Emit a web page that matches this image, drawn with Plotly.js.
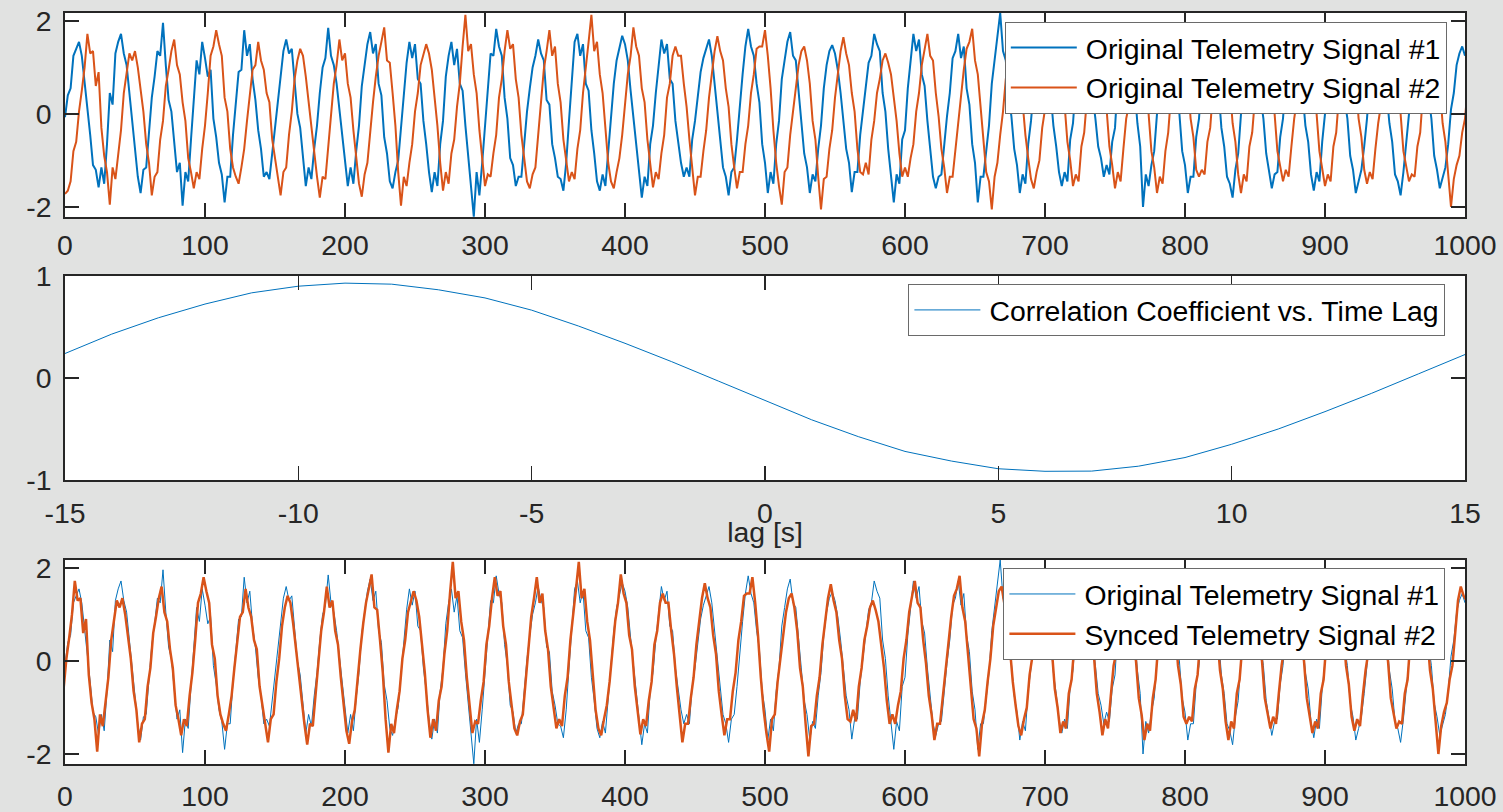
<!DOCTYPE html>
<html>
<head>
<meta charset="utf-8">
<script src="https://cdn.plot.ly/plotly-3.0.1.min.js"></script>
<style>
html,body{margin:0;padding:0;background:#e1e2e1;}
#chart{width:1503px;height:812px;}
</style>
</head>
<body>
<div id="chart"></div>
<script>
// ---------------- data ----------------
const SAMPLE_STEP = 2; // samples listed every 2 time units

// Original Telemetry Signal #1, t = 0..1000 (one ~30-sample cycle per row)
const signal1 = [
-0.07,0.4,0.55,1.25,1.4,1.55,1.25,0.7,0.2,-0.45,-1.1,-1.2,-1.58,-1.15,-1.5,
-0.65,0.45,0.2,1.3,1.55,1.72,1.3,1.05,0.45,-0.2,-0.9,-1.35,-1.7,-1.2,-1.15,
-0.4,0.35,0.8,1.35,1.25,1.96,1.05,0.3,0.05,-0.55,-1.25,-1.05,-1.97,-1.25,-1.45,
-0.55,0.35,1.15,0.85,1.55,1.2,0.8,0.95,-0.1,-0.5,-1.05,-1.3,-1.9,-1.35,-1.35,
-0.45,0.15,0.9,0.95,1.8,1.25,1.5,0.75,0.3,-0.35,-0.75,-1.35,-1.25,-1.4,-0.85,
-0.35,0.2,0.7,1.35,1.6,1.3,1.4,0.65,0.0,-0.3,-1.0,-1.55,-1.15,-1.4,-0.75,
-0.25,0.45,1.0,1.2,1.85,1.25,1.05,0.65,0.1,-0.55,-1.05,-1.55,-1.15,-1.5,-0.8,
-0.25,0.6,1.05,1.5,1.76,1.3,1.5,0.65,0.4,-0.5,-0.85,-1.45,-1.6,-1.25,-1.0,
-0.35,0.45,1.1,1.55,1.2,1.5,0.75,0.65,-0.15,-0.65,-1.25,-1.68,-1.25,-1.55,-0.65,
-0.15,0.8,1.25,1.55,1.05,1.4,0.65,0.5,-0.25,-0.85,-1.45,-2.21,-1.25,-1.75,-1.05,
-0.25,0.45,1.3,1.25,1.83,1.45,1.25,0.35,-0.1,-0.95,-1.1,-1.55,-1.35,-1.35,-0.65,
0.05,0.55,1.0,1.25,1.6,1.3,1.15,0.3,0.2,-0.65,-0.95,-1.35,-1.4,-1.65,-1.05,
-0.15,0.7,1.55,1.72,1.25,1.5,0.65,0.5,-0.35,-0.85,-1.45,-1.65,-1.3,-1.55,-0.75,
-0.15,0.65,1.15,1.4,1.68,1.5,1.15,0.5,-0.05,-0.65,-1.2,-1.8,-1.35,-1.55,-0.65,
-0.25,0.45,1.05,1.6,1.3,1.5,0.75,0.65,-0.15,-0.65,-1.05,-1.35,-1.15,-1.35,-0.55,
-0.15,0.45,0.9,1.2,1.4,1.6,1.25,0.65,0.05,-0.45,-1.15,-1.35,-1.75,-1.25,-1.15,
-0.55,0.25,0.85,1.45,1.83,1.45,1.25,0.65,0.25,-0.65,-1.05,-1.7,-1.25,-1.5,-0.65,
-0.15,0.75,1.15,1.55,1.76,1.25,1.15,0.45,-0.15,-0.85,-1.15,-1.7,-1.3,-1.45,-0.75,
-0.25,0.55,1.05,1.35,1.48,1.3,0.95,0.45,-0.15,-0.75,-1.05,-1.68,-1.25,-1.25,-0.45,
0.05,0.55,1.1,1.25,1.72,1.5,1.35,0.45,0.05,-0.75,-1.35,-1.9,-1.3,-1.5,-0.55,
-0.35,0.55,1.2,1.72,1.35,1.6,0.85,0.6,-0.15,-0.75,-1.35,-1.6,-1.35,-1.3,-0.65,
-0.05,0.45,1.2,1.35,1.72,1.2,1.45,0.55,0.2,-0.65,-1.05,-1.9,-1.35,-1.35,-0.75,
-0.25,0.65,1.15,1.55,2.17,1.35,1.15,0.4,-0.05,-0.75,-1.1,-1.7,-1.3,-1.5,-0.65,
-0.15,0.65,1.25,1.9,1.4,1.5,0.85,0.45,-0.25,-0.7,-1.25,-1.55,-1.25,-1.45,-0.55,
-0.2,0.65,0.95,1.4,1.55,1.2,1.1,0.4,-0.1,-0.7,-0.95,-1.35,-1.1,-1.3,-0.6,
-0.3,0.7,1.05,1.5,1.45,1.35,1.1,0.55,-0.2,-0.7,-2.0,-1.3,-1.55,-1.1,-0.8,
0.0,0.45,1.25,1.35,1.7,1.3,1.05,0.4,0.0,-0.8,-1.1,-1.7,-1.35,-1.35,-0.5,
-0.1,0.75,1.1,1.45,1.5,1.4,0.9,0.5,-0.3,-0.7,-1.35,-1.5,-1.8,-1.2,-0.85,
0.0,0.55,1.2,1.3,1.65,1.2,1.15,0.35,-0.1,-0.85,-1.2,-1.6,-1.3,-1.25,-0.5,
-0.1,0.7,1.15,1.6,1.95,1.35,1.1,0.45,-0.25,-0.6,-1.3,-1.65,-1.25,-1.45,-0.6,
0.0,0.5,1.2,1.35,1.65,1.25,1.0,0.3,-0.1,-0.9,-1.2,-1.7,-1.45,-1.2,-0.7,
-0.1,0.7,1.1,1.5,1.95,1.35,1.15,0.45,-0.2,-0.6,-1.3,-1.45,-1.75,-1.25,-0.6,
0.0,0.45,1.25,1.4,1.6,1.25,1.05,0.35,-0.1,-0.9,-1.2,-1.6,-1.4,-1.15,-0.65,
0.1,0.45,1.05,1.3,1.45,1.25
];

// Original Telemetry Signal #2, t = 0..1010 (recorded a little past the shown window)
const signal2 = [
-1.72,-1.65,-1.45,-0.8,-0.6,0.05,0.5,1.0,1.72,1.3,1.35,0.6,0.9,-0.3,-0.9,
-1.25,-1.95,-1.15,-1.4,-0.85,-0.35,0.45,0.85,1.3,1.15,1.35,1.0,0.55,0.05,-0.65,
-1.05,-1.75,-1.35,-1.25,-0.55,-0.15,0.6,0.95,1.35,1.6,1.05,0.85,0.25,-0.15,-0.95,
-1.25,-1.6,-1.25,-1.4,-0.75,-0.25,0.45,1.25,1.45,1.8,1.5,1.25,0.35,0.05,-0.75,
-1.15,-1.35,-1.5,-1.15,-0.75,-0.15,0.4,0.95,1.05,1.55,1.15,0.95,0.45,0.25,-0.55,
-0.95,-1.45,-1.75,-1.25,-1.15,-0.45,0.05,0.75,1.15,1.4,1.25,0.8,0.25,-0.25,-0.75,
-1.35,-1.8,-1.35,-1.4,-0.75,-0.15,0.65,1.05,1.6,1.15,1.3,0.65,0.35,-0.35,-0.95,
-1.5,-1.78,-1.3,-1.05,-0.35,0.25,0.8,1.25,1.55,1.86,1.15,1.1,0.45,-0.25,-1.25,
-1.97,-1.35,-1.55,-1.05,-0.65,0.05,0.45,1.05,1.25,1.5,1.3,0.95,0.35,-0.25,-1.05,
-1.65,-1.25,-1.5,-0.85,-0.55,0.15,0.65,1.45,2.13,1.35,1.5,0.85,0.45,-0.35,-0.95,
-1.55,-1.3,-1.35,-0.85,-0.45,0.35,0.75,1.35,1.8,1.4,1.5,0.75,0.35,-0.45,-0.95,
-1.45,-1.6,-1.3,-1.15,-0.45,0.15,0.95,1.35,1.8,1.25,1.45,0.65,0.25,-0.55,-0.95,
-1.45,-1.25,-1.4,-0.75,-0.35,0.45,0.95,1.55,2.13,1.35,1.55,0.85,0.45,-0.35,-1.05,
-1.45,-1.6,-1.25,-0.95,-0.45,0.15,0.85,1.25,1.86,1.45,1.25,0.55,0.25,-0.55,-1.05,
-1.58,-1.25,-1.4,-0.85,-0.45,0.35,0.65,1.25,1.45,1.25,1.25,0.65,0.15,-0.55,-1.15,
-1.75,-1.35,-1.35,-0.8,-0.35,0.35,0.85,1.35,1.67,1.35,1.15,0.55,0.15,-0.65,-1.15,
-1.6,-1.25,-1.25,-0.65,-0.25,0.45,0.85,1.4,1.45,1.45,1.8,1.25,0.55,-0.35,-1.05,
-1.55,-1.95,-1.25,-1.15,-0.45,0.05,0.65,1.05,1.35,1.45,1.15,0.65,-0.15,-0.55,-1.35,
-2.05,-1.4,-1.35,-0.75,-0.35,0.35,0.85,1.35,1.65,1.3,1.05,0.45,0.05,-0.75,-1.25,
-1.3,-1.05,-1.3,-0.55,-0.15,0.45,0.75,1.15,1.3,1.1,0.85,0.35,-0.15,-0.85,-1.35,
-1.15,-1.35,-0.95,-0.65,0.05,0.45,1.05,1.35,1.72,1.25,1.15,0.45,-0.05,-0.75,-1.15,
-1.7,-1.35,-1.35,-0.75,-0.25,0.45,0.95,1.4,1.55,1.83,1.15,0.85,0.15,-0.45,-1.25,
-1.45,-2.05,-1.35,-1.05,-0.45,0.05,0.75,1.15,1.5,1.6,1.25,0.85,0.25,-0.45,-0.95,
-1.4,-1.6,-1.25,-1.0,-0.3,0.1,0.9,1.15,1.55,1.3,1.4,0.6,0.2,-0.6,-1.0,
-1.55,-1.3,-1.45,-0.7,-0.4,0.35,0.7,1.35,1.45,1.2,1.25,0.5,0.1,-0.7,-1.1,
-1.6,-1.25,-1.45,-0.75,-0.1,0.2,1.0,1.2,1.6,1.25,1.15,0.4,0.0,-0.8,-1.15,
-1.7,-1.35,-1.5,-0.8,-0.4,0.4,0.75,1.4,1.55,1.45,1.1,0.7,-0.1,-0.5,-1.2,
-1.35,-1.2,-1.3,-0.6,-0.3,0.5,0.8,1.35,1.4,1.5,1.0,0.6,-0.2,-0.6,-1.3,
-1.7,-1.3,-1.45,-0.7,-0.4,0.35,0.95,1.25,1.6,1.25,1.1,0.4,0.0,-0.8,-1.1,
-1.45,-1.2,-1.35,-0.7,-0.1,0.3,1.0,1.3,1.55,1.3,1.15,0.4,0.0,-0.8,-1.15,
-1.55,-1.3,-1.45,-0.7,-0.4,0.4,0.8,1.35,1.5,1.45,1.05,0.7,-0.1,-0.5,-1.2,
-1.5,-1.25,-1.4,-0.75,-0.2,0.2,0.95,1.2,1.55,1.3,1.2,0.4,0.0,-0.8,-1.1,
-1.45,-1.3,-1.35,-0.7,-0.4,0.45,0.8,1.4,1.5,1.4,1.0,0.6,-0.2,-0.6,-1.3,
-2.0,-1.4,-1.1,-0.9,-0.4,-0.1,0.6,1.3,1.6,1.4,1.3
];

// Correlation coefficient vs. time lag
const lags = [-15,-14,-13,-12,-11,-10,-9,-8,-7,-6,-5,-4,-3,-2,-1,0,1,2,3,4,5,6,7,8,9,10,11,12,13,14,15];
const corrCoef = [0.24,0.43,0.59,0.725,0.835,0.90,0.93,0.92,0.865,0.785,0.665,0.51,0.34,0.16,-0.03,-0.22,-0.41,-0.575,-0.72,-0.815,-0.89,-0.915,-0.913,-0.865,-0.78,-0.65,-0.50,-0.33,-0.15,0.04,0.23];

// tick labels
const timeTickVals = [0,100,200,300,400,500,600,700,800,900,1000];
const timeTickText = ['0','100','200','300','400','500','600','700','800','900','1000'];
const sigTickVals = [-2,0,2];
const sigTickText = ['-2','0','2'];
const lagTickVals = [-15,-10,-5,0,5,10,15];
const lagTickText = ['-15','-10','-5','0','5','10','15'];
const corrTickVals = [-1,0,1];
const corrTickText = ['-1','0','1'];

const legendNames = {
  s1: 'Original Telemetry Signal #1',
  s2: 'Original Telemetry Signal #2',
  corr: 'Correlation Coefficient vs. Time Lag',
  synced: 'Synced Telemetry Signal #2'
};

// ---------------- derived ----------------
const t1 = signal1.map((_, i) => i * SAMPLE_STEP);
const t2 = signal2.map((_, i) => i * SAMPLE_STEP);
let best = 0;
corrCoef.forEach((c, i) => { if (c > corrCoef[best]) best = i; });
const shift = -lags[best];                 // delay that maximises correlation
const tSynced = t2.map(v => v - shift);

// ---------------- styling ----------------
const FONT = 'Liberation Sans, Arial, Helvetica, sans-serif';
const FS = 28.4;
const BLUE = '#0072BD';
const ORANGE = '#D95319';
const AX = '#262626';

function axisBase(extra) {
  return Object.assign({
    showline: true, mirror: 'ticks', linecolor: AX, linewidth: 1.8,
    ticks: 'inside', ticklen: 14, tickwidth: 1.5, tickcolor: AX,
    showgrid: false, zeroline: false, fixedrange: true,
    tickfont: {family: FONT, size: FS, color: AX}
  }, extra);
}
function legendBase(x, y) {
  return {
    x: x, y: y, xanchor: 'right', yanchor: 'top',
    bgcolor: '#ffffff', bordercolor: '#6a6a6a', borderwidth: 1,
    font: {family: FONT, size: FS, color: '#000000'},
    itemwidth: 70, tracegroupgap: 0
  };
}

const traces = [
  {x: t1, y: signal1, xaxis: 'x', yaxis: 'y', type: 'scatter', mode: 'lines',
   name: legendNames.s1, legend: 'legend', line: {color: BLUE, width: 2}},
  {x: t2, y: signal2, xaxis: 'x', yaxis: 'y', type: 'scatter', mode: 'lines',
   name: legendNames.s2, legend: 'legend', line: {color: ORANGE, width: 2}},
  {x: lags, y: corrCoef, xaxis: 'x2', yaxis: 'y2', type: 'scatter', mode: 'lines',
   name: legendNames.corr, legend: 'legend2', line: {color: BLUE, width: 1}},
  {x: t1, y: signal1, xaxis: 'x3', yaxis: 'y3', type: 'scatter', mode: 'lines',
   name: legendNames.s1, legend: 'legend3', line: {color: BLUE, width: 1}},
  {x: tSynced, y: signal2, xaxis: 'x3', yaxis: 'y3', type: 'scatter', mode: 'lines',
   name: legendNames.synced, legend: 'legend3', line: {color: ORANGE, width: 2.5}}
];

const layout = {
  width: 1503, height: 812,
  margin: {l: 65, r: 38, t: 0, b: 0},
  paper_bgcolor: '#e1e2e1', plot_bgcolor: '#ffffff',
  font: {family: FONT, color: AX},
  showlegend: true, hovermode: false,
  xaxis: axisBase({anchor: 'y', domain: [0, 1], range: [0, 1000],
    tickmode: 'array', tickvals: timeTickVals, ticktext: timeTickText, ticklabelstandoff: 2}),
  yaxis: axisBase({anchor: 'x', domain: [0.7328, 0.984], range: [-2.215, 2.17],
    tickmode: 'array', tickvals: sigTickVals, ticktext: sigTickText, ticklabelstandoff: 6}),
  xaxis2: axisBase({anchor: 'y2', domain: [0, 1], range: [-15, 15],
    tickmode: 'array', tickvals: lagTickVals, ticktext: lagTickText, ticklabelstandoff: 7,
    title: {text: 'lag [s]', font: {family: FONT, size: FS, color: AX}, standoff: 0}}),
  yaxis2: axisBase({anchor: 'x2', domain: [0.4089, 0.6601], range: [-1, 1],
    tickmode: 'array', tickvals: corrTickVals, ticktext: corrTickText, ticklabelstandoff: 6}),
  xaxis3: axisBase({anchor: 'y3', domain: [0, 1], range: [0, 1000],
    tickmode: 'array', tickvals: timeTickVals, ticktext: timeTickText, ticklabelstandoff: 6}),
  yaxis3: axisBase({anchor: 'x3', domain: [0.0591, 0.3103], range: [-2.215, 2.17],
    tickmode: 'array', tickvals: sigTickVals, ticktext: sigTickText, ticklabelstandoff: 6}),
  legend: legendBase(0.987, 0.9735),
  legend2: legendBase(0.986, 0.6503),
  legend3: legendBase(0.986, 0.3005)
};

Plotly.newPlot('chart', traces, layout, {displayModeBar: false, staticPlot: true}).then(gd => {
  // MATLAB-style longer legend line samples
  gd.querySelectorAll('.legendlines path').forEach(p => p.setAttribute('d', 'M5,0h66'));
  // MATLAB puts the x label tight under the tick labels
  const tg = gd.querySelector('.g-x2title');
  if (tg) tg.setAttribute('transform', 'translate(0,-6)');
});
</script>
</body>
</html>
